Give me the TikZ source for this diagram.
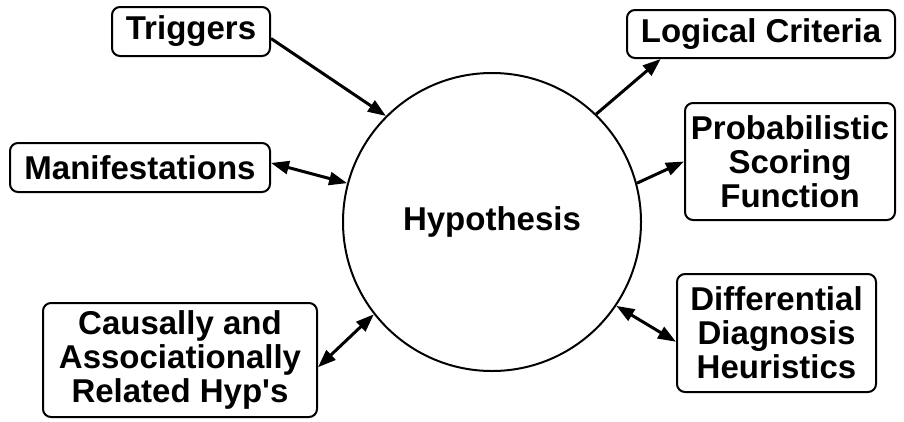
\documentclass[tikz,border=0pt]{standalone}
\usepackage{fontspec}
\setmainfont{Liberation Sans}[Ligatures=TeXOff]
\usetikzlibrary{arrows.meta}
\tikzset{
  box/.style={draw, line width=2pt, rounded corners=8pt, align=center, inner sep=0pt,
    font=\bfseries\fontsize{33}{34}\selectfont},
  link/.style={line width=3pt, -{Triangle[length=18pt,width=13pt]}},
  both/.style={line width=3pt, {Triangle[length=18pt,width=13pt]}-{Triangle[length=18pt,width=13pt]}}
}
\begin{document}
\begin{tikzpicture}[x=1pt,y=-1pt]
\useasboundingbox (0,0) rectangle (904,421);
% the hypothesis in the middle
\node[circle, draw, line width=2pt, minimum size=298pt, inner sep=0pt,
  font=\bfseries\fontsize{33}{34}\selectfont] (hyp) at (492,222) {Hypothesis};
% left side
\node[box, minimum width=158pt, minimum height=49pt] (trig) at (191,31.5) {Triggers};
\node[box, minimum width=260pt, minimum height=49pt] (manif) at (140,167.5) {Manifestations};
\node[box, minimum width=274pt, minimum height=114pt] (causal) at (180,360)
  {Causally and\\Associationally\\Related Hyp's};
% right side
\node[box, minimum width=268pt, minimum height=48pt] (logic) at (761,34) {Logical Criteria};
\node[box, minimum width=210pt, minimum height=117pt] (prob) at (790,161.5)
  {Probabilistic\\Scoring\\Function};
\node[box, minimum width=199pt, minimum height=118pt] (diff) at (776.5,333)
  {Differential\\Diagnosis\\Heuristics};
% connectors
\draw[link] (trig.-5) -- (hyp.135);
\draw[both] (manif.2) -- (hyp.165);
\draw[both] (causal.-3) -- (hyp.218);
\draw[link] (hyp.46) -- (logic.194);
\draw[link] (hyp.15) -- (prob.west);
\draw[both] (hyp.-34) -- (diff.185);
\end{tikzpicture}
\end{document}
